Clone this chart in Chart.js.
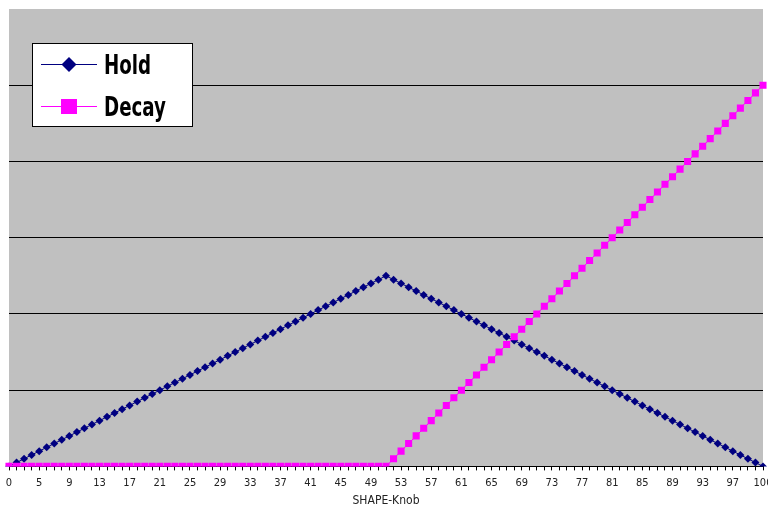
<!DOCTYPE html>
<html>
<head>
<meta charset="utf-8">
<script src="https://cdn.jsdelivr.net/npm/chart.js@4.4.0/dist/chart.umd.min.js"></script>
<style>
  html, body { margin: 0; padding: 0; background: #fff; }
  #wrap { width: 768px; height: 507px; position: relative; }
</style>
</head>
<body>
<div id="wrap"><canvas id="grafico"></canvas></div>
<script>
// knob positions 0..100 (one point each)
const knob = [
  0,1,2,3,4,5,6,7,8,9,10,11,12,13,14,15,16,17,18,19,20,
  21,22,23,24,25,26,27,28,29,30,31,32,33,34,35,36,37,38,39,40,
  41,42,43,44,45,46,47,48,49,50,51,52,53,54,55,56,57,58,59,60,
  61,62,63,64,65,66,67,68,69,70,71,72,73,74,75,76,77,78,79,80,
  81,82,83,84,85,86,87,88,89,90,91,92,93,94,95,96,97,98,99,100
];

// labels shown under every 4th point, as printed on the chart
const tickLabels = ['0','5','9','13','17','21','25','29','33','37','41','45','49',
  '53','57','61','65','69','73','77','81','85','89','93','97','100'];

const hold = [
  0,0.05,0.1,0.15,0.2,0.25,0.3,0.35,0.4,0.45,0.5,0.55,0.6,0.65,0.7,0.75,0.8,0.85,0.9,0.95,1,
  1.05,1.1,1.15,1.2,1.25,1.3,1.35,1.4,1.45,1.5,1.55,1.6,1.65,1.7,1.75,1.8,1.85,1.9,1.95,2,
  2.05,2.1,2.15,2.2,2.25,2.3,2.35,2.4,2.45,2.5,
  2.45,2.4,2.35,2.3,2.25,2.2,2.15,2.1,2.05,2,
  1.95,1.9,1.85,1.8,1.75,1.7,1.65,1.6,1.55,1.5,1.45,1.4,1.35,1.3,1.25,1.2,1.15,1.1,1.05,1,
  0.95,0.9,0.85,0.8,0.75,0.7,0.65,0.6,0.55,0.5,0.45,0.4,0.35,0.3,0.25,0.2,0.15,0.1,0.05,0
];

const decay = [
  0,0,0,0,0,0,0,0,0,0,0,0,0,0,0,0,0,0,0,0,0,
  0,0,0,0,0,0,0,0,0,0,0,0,0,0,0,0,0,0,0,0,
  0,0,0,0,0,0,0,0,0,0,
  0.1,0.2,0.3,0.4,0.5,0.6,0.7,0.8,0.9,1,
  1.1,1.2,1.3,1.4,1.5,1.6,1.7,1.8,1.9,2,2.1,2.2,2.3,2.4,2.5,2.6,2.7,2.8,2.9,3,
  3.1,3.2,3.3,3.4,3.5,3.6,3.7,3.8,3.9,4,4.1,4.2,4.3,4.4,4.5,4.6,4.7,4.8,4.9,5
];

const NAVY = '#000080';
const PINK = '#FF00FF';
const FONT = "'Liberation Sans Narrow', 'DejaVu Sans Condensed', 'Liberation Sans', sans-serif";

// gray plot background
const fundo = {
  id: 'fundo',
  beforeDraw(chart) {
    const { ctx, chartArea: a } = chart;
    ctx.save();
    ctx.fillStyle = '#C0C0C0';
    ctx.fillRect(a.left, a.top, a.right - a.left, a.bottom - a.top);
    ctx.restore();
  }
};

// boxed legend in the top-left corner
const legenda = {
  id: 'legenda',
  afterDraw(chart) {
    const ctx = chart.ctx;
    ctx.save();
    ctx.fillStyle = '#fff';
    ctx.fillRect(32.5, 43.5, 160, 83);
    ctx.strokeStyle = '#000';
    ctx.lineWidth = 1;
    ctx.strokeRect(32.5, 43.5, 160, 83);

    // Hold
    ctx.strokeStyle = NAVY;
    ctx.beginPath(); ctx.moveTo(41, 64.5); ctx.lineTo(97, 64.5); ctx.stroke();
    ctx.fillStyle = NAVY;
    ctx.beginPath();
    ctx.moveTo(69, 57); ctx.lineTo(76.5, 64.5); ctx.lineTo(69, 72); ctx.lineTo(61.5, 64.5);
    ctx.closePath(); ctx.fill();

    // Decay
    ctx.strokeStyle = PINK;
    ctx.beginPath(); ctx.moveTo(41, 106.5); ctx.lineTo(97, 106.5); ctx.stroke();
    ctx.fillStyle = PINK;
    ctx.fillRect(61, 99, 16, 15);

    // condensed heavy text
    ctx.fillStyle = '#000';
    ctx.font = 'bold 27px ' + FONT;
    ctx.textBaseline = 'alphabetic';
    ctx.translate(104, 0);
    ctx.scale(0.75, 1);
    ctx.fillText('Hold', 0, 74);
    ctx.fillText('Decay', 0, 116);
    ctx.restore();
  }
};

new Chart(document.getElementById('grafico').getContext('2d'), {
  type: 'line',
  data: {
    labels: knob,
    datasets: [{
      label: 'Hold',
      data: hold,
      borderColor: NAVY,
      backgroundColor: NAVY,
      borderWidth: 1,
      pointStyle: 'rectRot',
      pointRadius: 4,
      pointBorderWidth: 0,
      order: 1
    }, {
      label: 'Decay',
      data: decay,
      borderColor: PINK,
      backgroundColor: PINK,
      borderWidth: 1,
      pointStyle: 'rect',
      pointRadius: 5,
      pointBorderWidth: 0,
      order: 0
    }]
  },
  options: {
    responsive: true,
    maintainAspectRatio: false,
    animation: false,
    layout: { padding: { left: 9, right: 4, top: 9, bottom: -1 } },
    plugins: {
      legend: { display: false },
      tooltip: { enabled: false }
    },
    scales: {
      x: {
        offset: false,
        border: { display: true, color: '#000', width: 1 },
        grid: { drawOnChartArea: false, drawTicks: true, tickLength: 4, color: '#000' },
        ticks: {
          autoSkip: false,
          maxRotation: 0,
          minRotation: 0,
          padding: 6,
          color: '#222',
          font: { family: FONT, size: 11 },
          callback: (v, i) => (i % 4 === 0 ? tickLabels[i / 4] : '')
        },
        title: {
          display: true,
          text: 'SHAPE-Knob',
          color: '#222',
          font: { family: FONT, size: 12 },
          padding: { top: -2, bottom: 0 }
        },
        afterFit: s => { s.paddingLeft = 0; s.paddingRight = 0; }
      },
      y: {
        display: true,
        min: 0,
        max: 6,
        border: { display: false },
        ticks: { display: false, stepSize: 1 },
        grid: {
          drawTicks: false,
          color: c => (c.tick.value > 0 && c.tick.value < 6 ? '#000' : 'rgba(0,0,0,0)')
        }
      }
    }
  },
  plugins: [fundo, legenda]
});
</script>
</body>
</html>
